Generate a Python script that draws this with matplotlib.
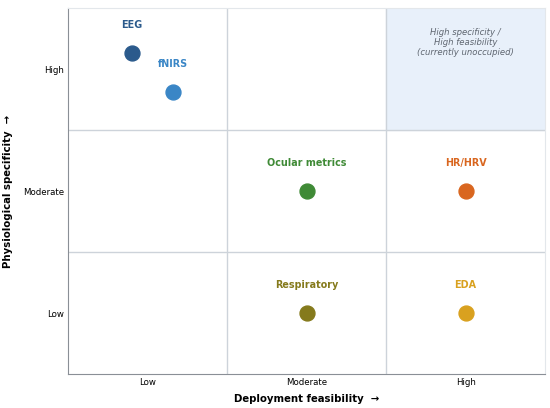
import matplotlib
matplotlib.use('Agg')
import matplotlib.pyplot as plt

# Categories and point placement (feasibility, specificity) on a 0-2 scale
levels = ['Low', 'Moderate', 'High']
names = ['EEG', 'fNIRS', 'Ocular metrics', 'HR/HRV', 'Respiratory', 'EDA']
feasibility = [-0.1, 0.16, 1.0, 2.0, 1.0, 2.0]
specificity = [2.13, 1.81, 1.0, 1.0, 0.0, 0.0]
colors = ['#2b5a8c', '#3a86c6', '#3f8a36', '#d9661f', '#857a1c', '#d9a11f']

fig, ax = plt.subplots(figsize=(5.5, 4.08), dpi=100)

# empty quadrant highlight
ax.axvspan(1.5, 2.5, ymin=2/3, ymax=1, color='#e8f0fa', zorder=0)
ax.text(2.0, 2.22, 'High specificity /\nHigh feasibility\n(currently unoccupied)',
        ha='center', va='center', fontsize=6.1, style='italic', color='#5f6670',
        linespacing=1.15)

for v in [0.5, 1.5]:
    ax.axvline(v, color='#cdd3da', lw=1, zorder=1)
    ax.axhline(v, color='#cdd3da', lw=1, zorder=1)

for n, x, y, c in zip(names, feasibility, specificity, colors):
    ax.scatter(x, y, s=115, color=c, zorder=3)
    ax.text(x, y + 0.205, n, ha='center', va='baseline', fontsize=6.9,
            fontweight='bold', color=c)

ax.set_xlim(-0.5, 2.5)
ax.set_ylim(-0.5, 2.5)
ax.set_xticks(range(3))
ax.set_xticklabels(levels)
ax.set_yticks(range(3))
ax.set_yticklabels(levels)
ax.tick_params(axis='x', length=0, labelsize=6.2, pad=3)
ax.tick_params(axis='y', length=0, labelsize=6.2, pad=3)

ax.set_xlabel('Deployment feasibility  \u2192', fontsize=7.3, fontweight='bold', labelpad=5)
ax.set_ylabel('Physiological specificity  \u2192', fontsize=7.3, fontweight='bold', labelpad=7)

for s in ['left', 'bottom']:
    ax.spines[s].set_color('#8a8f96')
for s in ['top', 'right']:
    ax.spines[s].set_color('#e3e7eb')

fig.subplots_adjust(left=0.124, right=0.991, bottom=0.083, top=0.98)
fig.savefig('out.png', dpi=100)
